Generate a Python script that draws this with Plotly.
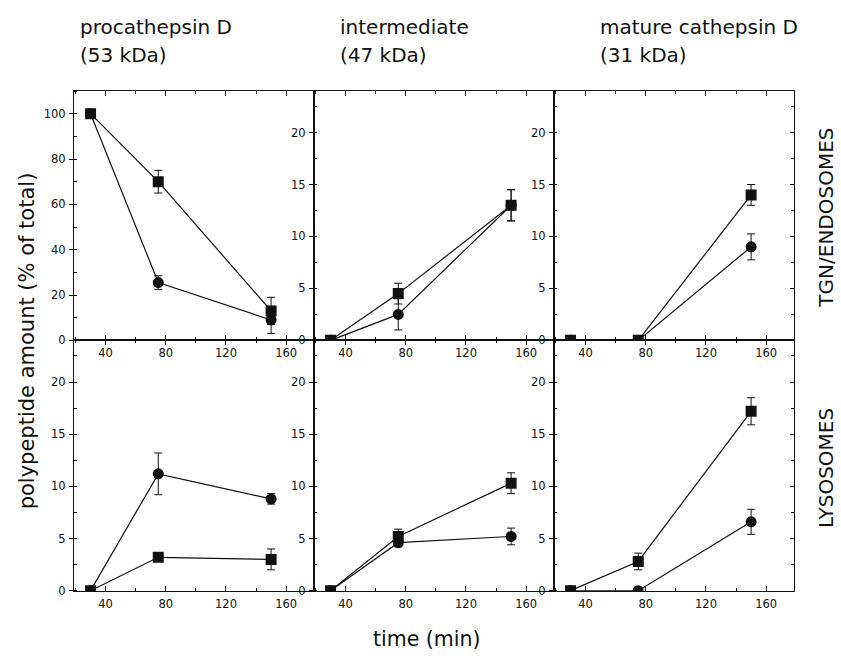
import plotly.graph_objects as go

# Chase time points (min)
time_min = [30, 75, 150]

# TGN/endosomes fraction, % of total (squares / circles) with error
pro_tgn_sq = [100, 70, 13]
pro_tgn_sq_err = [0, 5, 6]
pro_tgn_ci = [100, 25.5, 9]
pro_tgn_ci_err = [0, 3, 6]

int_tgn_sq = [0, 4.5, 13]
int_tgn_sq_err = [0, 1, 1.5]
int_tgn_ci = [0, 2.5, 13]
int_tgn_ci_err = [0, 1.5, 1.5]

mat_tgn_sq = [0, 0, 14]
mat_tgn_sq_err = [0, 0, 1]
mat_tgn_ci = [0, 0, 9]
mat_tgn_ci_err = [0, 0, 1.25]

# Lysosomes fraction, % of total
pro_lys_sq = [0, 3.2, 3.0]
pro_lys_sq_err = [0, 0.4, 1]
pro_lys_ci = [0, 11.2, 8.8]
pro_lys_ci_err = [0, 2, 0.5]

int_lys_sq = [0, 5.2, 10.3]
int_lys_sq_err = [0, 0.7, 1]
int_lys_ci = [0, 4.6, 5.2]
int_lys_ci_err = [0, 0.4, 0.8]

mat_lys_sq = [0, 2.8, 17.2]
mat_lys_sq_err = [0, 0.8, 1.3]
mat_lys_ci = [0, 0, 6.6]
mat_lys_ci_err = [0, 0, 1.2]

col_titles = [("procathepsin D", "(53 kDa)"),
              ("intermediate", "(47 kDa)"),
              ("mature cathepsin D", "(31 kDa)")]
row_titles = ["TGN/ENDOSOMES", "LYSOSOMES"]

W, H = 841, 660
FONT = "DejaVu Sans"
INK = "#111111"

# panel edges in pixels
col_px = [(74, 314), (314, 554), (554, 794)]
row_px = [(92, 344), (344, 597)]


def xdom(c):
    a, b = col_px[c]
    return [a / W, b / W]


def ydom(r):
    a, b = row_px[r]
    return [1 - b / H, 1 - a / H]


panels = [
    (0, 0, pro_tgn_sq, pro_tgn_sq_err, pro_tgn_ci, pro_tgn_ci_err),
    (0, 1, int_tgn_sq, int_tgn_sq_err, int_tgn_ci, int_tgn_ci_err),
    (0, 2, mat_tgn_sq, mat_tgn_sq_err, mat_tgn_ci, mat_tgn_ci_err),
    (1, 0, pro_lys_sq, pro_lys_sq_err, pro_lys_ci, pro_lys_ci_err),
    (1, 1, int_lys_sq, int_lys_sq_err, int_lys_ci, int_lys_ci_err),
    (1, 2, mat_lys_sq, mat_lys_sq_err, mat_lys_ci, mat_lys_ci_err),
]

fig = go.Figure()
layout = {}

for i, (r, c, sq, sq_e, ci, ci_e) in enumerate(panels):
    n = i + 1
    xa = "x" if n == 1 else f"x{n}"
    ya = "y" if n == 1 else f"y{n}"
    for vals, errs, sym in ((ci, ci_e, "circle"), (sq, sq_e, "square")):
        fig.add_trace(go.Scatter(
            x=time_min, y=vals, xaxis=xa, yaxis=ya, mode="lines+markers",
            line=dict(color=INK, width=1.2),
            marker=dict(symbol=sym, size=11, color=INK),
            error_y=dict(type="data", array=errs, visible=True,
                         color=INK, thickness=1, width=4),
            showlegend=False, hoverinfo="skip"))

    big = (r == 0 and c == 0)
    layout["xaxis" if n == 1 else f"xaxis{n}"] = dict(
        domain=xdom(c), anchor=ya, range=[19, 178.5],
        tickmode="linear", tick0=0, dtick=40,
        ticks="inside", ticklen=5, tickwidth=1, tickcolor=INK,
        minor=dict(ticks="inside", ticklen=3, tick0=0, dtick=20,
                   tickcolor=INK, tickwidth=1),
        showline=True, linecolor=INK, linewidth=1.2, mirror="ticks",
        showgrid=False, zeroline=False,
        tickfont=dict(family=FONT, size=11.5, color=INK), ticklabelstandoff=2)
    layout["yaxis" if n == 1 else f"yaxis{n}"] = dict(
        domain=ydom(r), anchor=xa,
        range=[0, 110] if big else [0, 24],
        tickmode="linear", tick0=0, dtick=20 if big else 5,
        ticks="outside", ticklen=4, tickwidth=1, tickcolor=INK,
        minor=dict(ticks="inside", ticklen=3, tick0=0,
                   dtick=10 if big else 2.5, tickcolor=INK, tickwidth=1),
        showline=True, linecolor=INK, linewidth=1.2, mirror=True,
        showgrid=False, zeroline=False,
        tickfont=dict(family=FONT, size=11.5, color=INK), ticklabelstandoff=1)

# inward tick marks along the right frame of the last column
for k, (base, r) in enumerate(((3, 0), (6, 1))):
    n = 7 + k
    fig.add_trace(go.Scatter(x=[], y=[], xaxis=f"x{base}", yaxis=f"y{n}",
                             showlegend=False, hoverinfo="skip"))
    layout[f"yaxis{n}"] = dict(
        overlaying=f"y{base}", anchor=f"x{base}", side="right",
        range=[0, 24], tickmode="linear", tick0=0, dtick=5,
        ticks="inside", ticklen=4, tickwidth=1, tickcolor=INK,
        minor=dict(ticks="inside", ticklen=3, tick0=0, dtick=2.5,
                   tickcolor=INK, tickwidth=1),
        showticklabels=False, showline=False, showgrid=False, zeroline=False)

annotations = []
title_x = [78, 338, 598]
for c, (l1, l2) in enumerate(col_titles):
    for txt, yy in ((l1, 27), (l2, 56)):
        annotations.append(dict(
            text=txt, x=title_x[c] / W, y=1 - yy / H, xref="paper", yref="paper",
            xanchor="left", yanchor="middle", showarrow=False,
            font=dict(family=FONT, size=20, color=INK)))

for txt, yy in zip(row_titles, (220, 473)):
    annotations.append(dict(
        text=txt, x=826 / W, y=1 - yy / H, xref="paper", yref="paper",
        xanchor="center", yanchor="middle", textangle=-90, showarrow=False,
        font=dict(family=FONT, size=20, color=INK)))

annotations.append(dict(
    text="polypeptide amount (% of total)", x=27 / W, y=1 - 345 / H,
    xref="paper", yref="paper", xanchor="center", yanchor="middle",
    textangle=-90, showarrow=False, font=dict(family=FONT, size=21, color=INK)))
annotations.append(dict(
    text="time (min)", x=427 / W, y=1 - 646 / H,
    xref="paper", yref="paper", xanchor="center", yanchor="middle",
    showarrow=False, font=dict(family=FONT, size=20.5, color=INK)))

fig.update_layout(
    width=W, height=H, margin=dict(l=0, r=0, t=0, b=0),
    paper_bgcolor="white", plot_bgcolor="white",
    annotations=annotations, **layout)

fig.write_html("out.html")
